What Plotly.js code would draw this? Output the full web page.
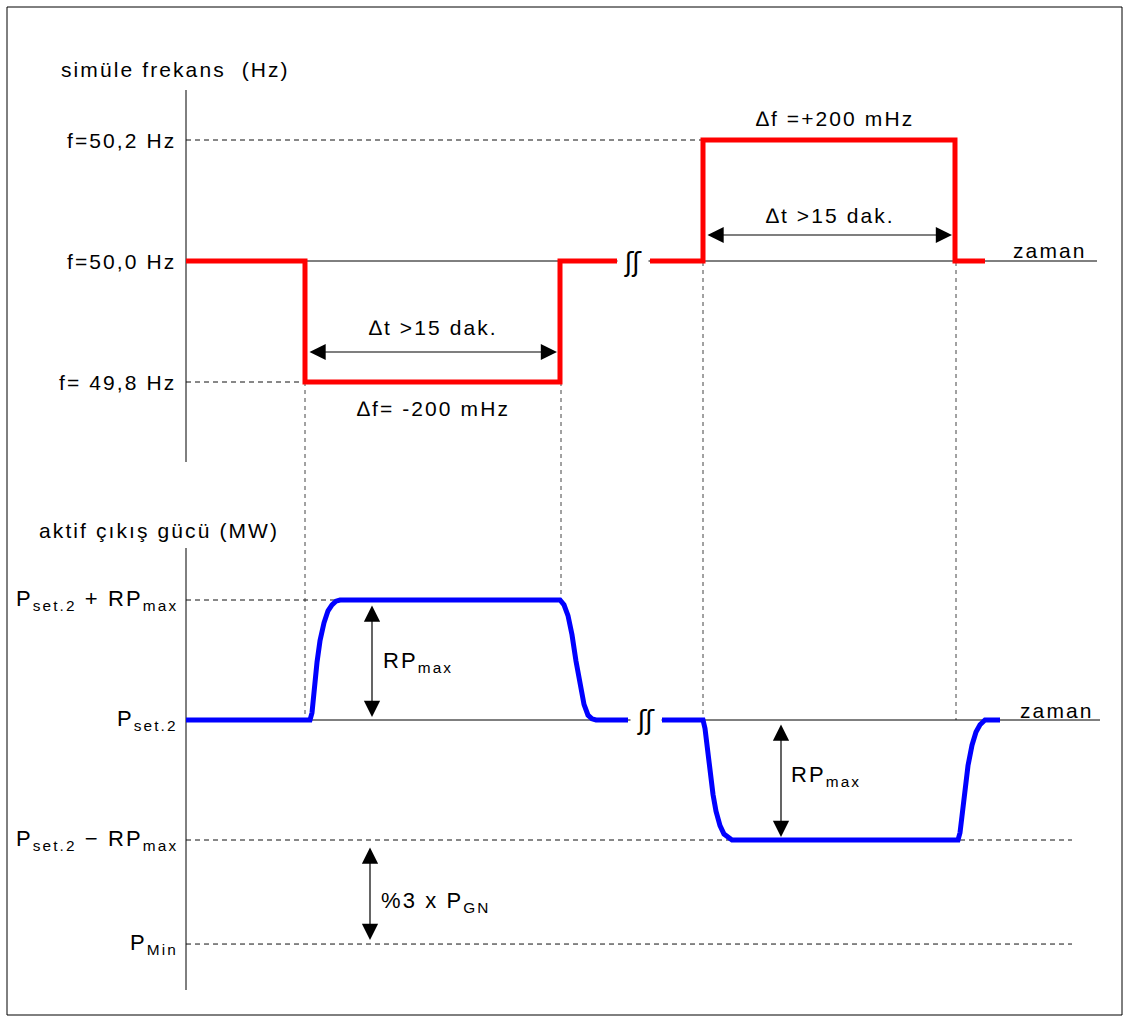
<!DOCTYPE html>
<html>
<head>
<meta charset="utf-8">
<script src="https://cdn.plot.ly/plotly-3.0.1.min.js"></script>
<style>
html,body{margin:0;padding:0;background:#fff;}
#chart{width:1130px;height:1023px;}
.annotation-text{letter-spacing:2.1px;}
</style>
</head>
<body>
<div id="chart"></div>
<script>
// ---- data (schematic time units on x, Hz and MW levels on y) ----
const freqLevels = [50.2, 50.0, 49.8];
const freqLabels = ['f=50,2 Hz', 'f=50,0 Hz', 'f= 49,8 Hz'];
const tFreq = [186, 305, 305, 560, 560, 617, null, 650, 703, 703, 955, 955, 985];
const fFreq = [50.0, 50.0, 49.8, 49.8, 50.0, 50.0, null, 50.0, 50.0, 50.2, 50.2, 50.0, 50.0];

const powLevels = [110, 100, 90, 81.33];
const powLabels = ['P<sub>set.2</sub> + RP<sub>max</sub>', 'P<sub>set.2</sub>', 'P<sub>set.2</sub> \u2212 RP<sub>max</sub>', 'P<sub>Min</sub>'];
const tPow = [186, 310, 312, 314, 317, 320, 324, 328, 332, 336, 340, 560, 564, 568, 572, 576, 580, 584, 588, 592, 596, 628, null,
              662, 703, 705, 707, 710, 713, 716, 720, 724, 728, 732, 958, 960, 962, 965, 968, 972, 976, 980, 985, 1000];
const pPow = [100, 100, 100.6, 102.5, 104.8, 106.6, 108.1, 109.1, 109.6, 109.9, 110, 110, 109.6, 108.7, 107.1, 104.9, 102.8, 101.3, 100.4, 100.1, 100, 100, null,
              100, 100, 99.3, 97.8, 95.6, 93.8, 92.4, 91.2, 90.5, 90.2, 90, 90, 90.6, 92.0, 94.3, 96.2, 97.9, 99.0, 99.6, 100, 100];

// ---- layout helpers ----
const W = 1130, H = 1023;
const py = p => 1 - p / H;              // pixel row -> paper fraction
const fs = 0.4 / 242;                   // Hz per pixel
const fRange = [49.8 - (H - 382) * fs, 50.2 + 140 * fs];
const ps = 1 / 12;                      // MW units per pixel
const pRange = [100 - (H - 720) * ps, 110 + 600 * ps];
const FONT = 'Arial, "Liberation Sans", sans-serif';

const traces = [
  {x: tFreq, y: fFreq, yaxis: 'y', mode: 'lines', line: {color: '#ff0000', width: 5}, connectgaps: false, hoverinfo: 'skip'},
  {x: tPow, y: pPow, yaxis: 'y2', mode: 'lines', line: {color: '#0000ff', width: 5, shape: 'linear'}, connectgaps: false, hoverinfo: 'skip'}
];

const shapes = [];
shapes.push({type: 'rect', xref: 'x', yref: 'paper', x0: 7, x1: 1122, y0: py(7), y1: py(1015), line: {color: '#000', width: 1}, layer: 'below'});
shapes.push({type: 'line', xref: 'x', yref: 'paper', x0: 186, x1: 186, y0: py(90), y1: py(462), line: {color: '#000', width: 1}, layer: 'below'});
shapes.push({type: 'line', xref: 'x', yref: 'paper', x0: 186, x1: 186, y0: py(548), y1: py(990), line: {color: '#000', width: 1}, layer: 'below'});
shapes.push({type: 'line', xref: 'x', yref: 'y', x0: 186, x1: 1097, y0: freqLevels[1], y1: freqLevels[1], line: {color: '#000', width: 1}, layer: 'below'});
shapes.push({type: 'line', xref: 'x', yref: 'y2', x0: 186, x1: 1100, y0: powLevels[1], y1: powLevels[1], line: {color: '#000', width: 1}, layer: 'below'});
const dashH = '5px,4px';
shapes.push({type: 'line', xref: 'x', yref: 'y', x0: 186, x1: 703, y0: freqLevels[0], y1: freqLevels[0], line: {color: '#111', width: 1, dash: dashH}, layer: 'below'});
shapes.push({type: 'line', xref: 'x', yref: 'y', x0: 186, x1: 305, y0: freqLevels[2], y1: freqLevels[2], line: {color: '#111', width: 1, dash: dashH}, layer: 'below'});
shapes.push({type: 'line', xref: 'x', yref: 'y2', x0: 186, x1: 340, y0: powLevels[0], y1: powLevels[0], line: {color: '#111', width: 1, dash: dashH}, layer: 'below'});
shapes.push({type: 'line', xref: 'x', yref: 'y2', x0: 186, x1: 1072, y0: powLevels[2], y1: powLevels[2], line: {color: '#111', width: 1, dash: dashH}, layer: 'below'});
shapes.push({type: 'line', xref: 'x', yref: 'y2', x0: 186, x1: 1072, y0: powLevels[3], y1: powLevels[3], line: {color: '#111', width: 1, dash: dashH}, layer: 'below'});
const dashV = '4px,4px';
[[305, 382, 720], [561, 382, 600], [703, 262, 720], [956, 262, 720]].forEach(v => {
  shapes.push({type: 'line', xref: 'x', yref: 'paper', x0: v[0], x1: v[0], y0: py(v[1]), y1: py(v[2]), line: {color: '#444', width: 1, dash: dashV}, layer: 'below'});
});

const ann = [];
const txt = (x, y, text, size, anchor) => ann.push({xref: 'x', yref: 'paper', x: x, y: py(y), text: text, showarrow: false,
  xanchor: anchor || 'center', yanchor: 'middle', font: {family: FONT, size: size || 21, color: '#000'}});

txt(175, 70, 'simüle frekans  (Hz)', 21);
txt(159, 530, 'aktif çıkış gücü (MW)', 21);
freqLevels.forEach((lv, i) => ann.push({xref: 'paper', yref: 'y', x: 178 / W, y: lv, text: freqLabels[i], showarrow: false,
  xanchor: 'right', yanchor: 'middle', font: {family: FONT, size: 21, color: '#000'}}));
powLevels.forEach((lv, i) => ann.push({xref: 'paper', yref: 'y2', x: 180 / W, y: lv, text: powLabels[i], showarrow: false,
  xanchor: 'right', yanchor: 'middle', font: {family: FONT, size: 22, color: '#000'}}));

txt(433, 328, '\u2206t >15 dak.', 21);
txt(433, 408, '\u2206f= -200 mHz', 21);
txt(835, 118, '\u2206f =+200 mHz', 21);
txt(830, 215, '\u2206t >15 dak.', 21);
txt(1050, 250, 'zaman', 21);
txt(1057, 710, 'zaman', 21);
txt(418, 662, 'RP<sub>max</sub>', 22);
txt(826, 776, 'RP<sub>max</sub>', 22);
txt(436, 902, '%3 x P<sub>GN</sub>', 22);

[[633, 262], [646, 720]].forEach(b => ann.push({xref: 'x', yref: 'paper', x: b[0], y: py(b[1]), text: '<span style="letter-spacing:-1px">\u0283\u0283</span>', showarrow: false,
  xanchor: 'center', yanchor: 'middle', bgcolor: '#ffffff', width: 30, height: 34, borderpad: 0,
  font: {family: '"DejaVu Sans", sans-serif', size: 26, color: '#000'}}));

const arrow = (x1, y1, x2, y2) => ann.push({xref: 'x', yref: 'paper', x: x2, y: py(y2), ax: x1 - x2, ay: y1 - y2,
  axref: 'pixel', ayref: 'pixel', text: '', showarrow: true, arrowside: 'end+start', arrowhead: 2, startarrowhead: 2,
  arrowsize: 2.7, startarrowsize: 2.7, arrowwidth: 1.2, arrowcolor: '#000', standoff: 0, startstandoff: 0});
arrow(308, 352, 557, 352);
arrow(706, 235, 952, 235);
arrow(372, 604, 372, 717);
arrow(781, 723, 781, 837);
arrow(370, 846, 370, 940);

const layout = {
  width: W, height: H,
  margin: {l: 0, r: 0, t: 0, b: 0, pad: 0},
  paper_bgcolor: '#ffffff', plot_bgcolor: '#ffffff',
  showlegend: false,
  xaxis: {range: [0, W], visible: false, fixedrange: true},
  yaxis: {range: fRange, visible: false, fixedrange: true},
  yaxis2: {range: pRange, visible: false, overlaying: 'y', fixedrange: true},
  shapes: shapes,
  annotations: ann
};

Plotly.newPlot('chart', traces, layout, {displayModeBar: false});
</script>
</body>
</html>
